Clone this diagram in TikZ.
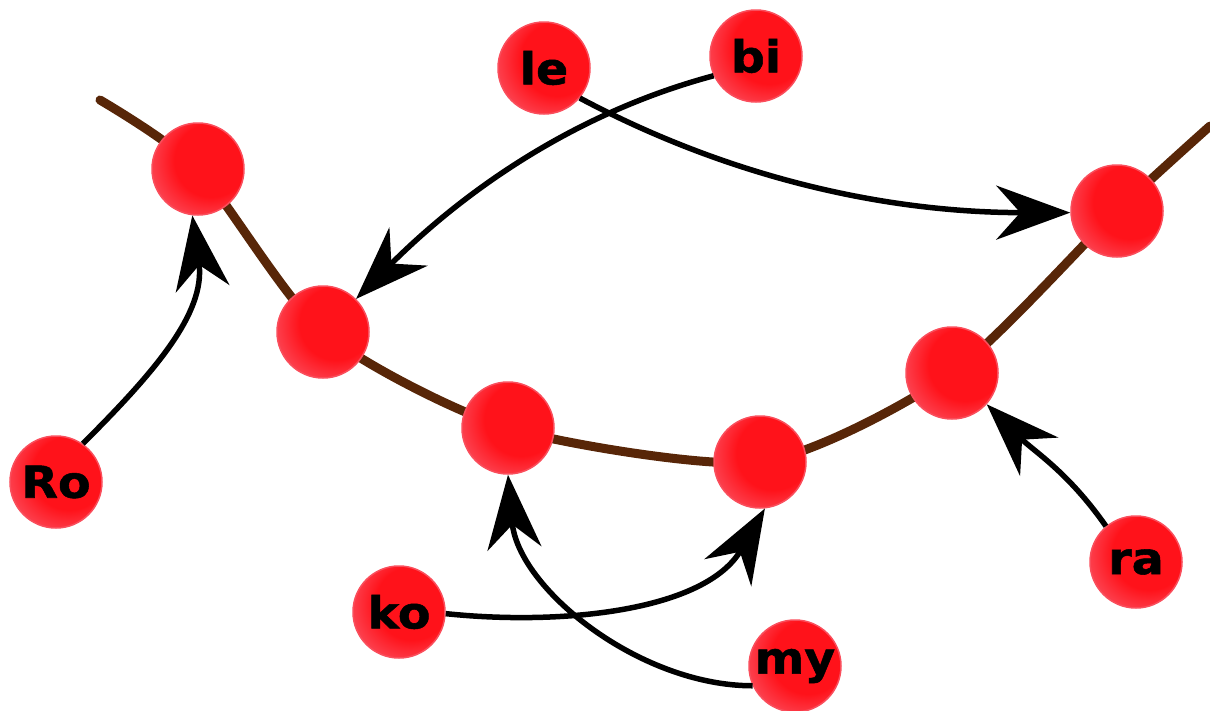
\documentclass[tikz,border=0pt]{standalone}
\usepackage{fontspec}
\setmainfont{DejaVu Sans}
\newfontfamily\lblfont{DejaVu Sans Bold}[FakeStretch=1.08, FakeBold=1.2]
\usetikzlibrary{arrows.meta}
\definecolor{ballin}{RGB}{255,18,26}
\definecolor{ballout}{RGB}{252,66,80}
\definecolor{balledge}{RGB}{250,78,92}
\definecolor{chain}{RGB}{88,38,8}
\pgfdeclareradialshading{redball}{\pgfpoint{12bp}{8bp}}{color(0bp)=(ballin); color(20bp)=(ballin); color(31bp)=(ballout); color(50bp)=(ballout)}
\tikzset{
  ball/.style={circle, minimum size=92pt, inner sep=0pt, shading=redball, draw=balledge, line width=1.5pt,
    font=\fontsize{44}{44}\lblfont, text=black},
  chainline/.style={draw=chain, line width=9pt, line cap=round},
  link/.style={draw=black, line width=5.5pt, -{Stealth[length=74pt, width=54pt, inset=24pt]}},
}
\begin{document}
\begin{tikzpicture}[x=1pt, y=-1pt]
\useasboundingbox (0,0) rectangle (1210,710);
\coordinate (pA) at (198,169);
\coordinate (pB) at (323,332);
\coordinate (pC) at (508,428);
\coordinate (pD) at (760,462);
\coordinate (pE) at (952,373);
\coordinate (pF) at (1117,211);
\coordinate (s0) at (100,100);
\coordinate (s1) at (1210,126);
\draw[chainline] plot[smooth, tension=0.42] coordinates {(s0) (pA) (pB) (pC) (pD) (pE) (pF) (s1)};
\node[ball] (A) at (pA) {};
\node[ball] (B) at (pB) {};
\node[ball] (C) at (pC) {};
\node[ball] (D) at (pD) {};
\node[ball] (E) at (pE) {};
\node[ball] (F) at (pF) {};
\node[ball] (le) at (544,68) {le};
\node[ball] (bi) at (756,56) {bi};
\node[ball] (Ro) at (56,482) {Ro};
\node[ball] (ko) at (399,612) {ko};
\node[ball] (my) at (795,666) {my};
\node[ball] (ra) at (1136,562) {ra};
\draw[link] (le.-40) to[out=-28, in=180, looseness=0.9] (F.182);
\draw[link] (bi.205) to[out=195, in=45, looseness=0.9] (B.45);
\draw[link] (Ro.55) to[out=45, in=-82, looseness=1.0] (A.-97);
\draw[link] (ko.-2) to[out=-6, in=240, looseness=0.9] (D.-84);
\draw[link] (my.205) to[out=180, in=-85, looseness=0.9] (C.-90);
\draw[link] (ra.130) to[out=125, in=-45, looseness=1.0] (E.-42);
\end{tikzpicture}
\end{document}
